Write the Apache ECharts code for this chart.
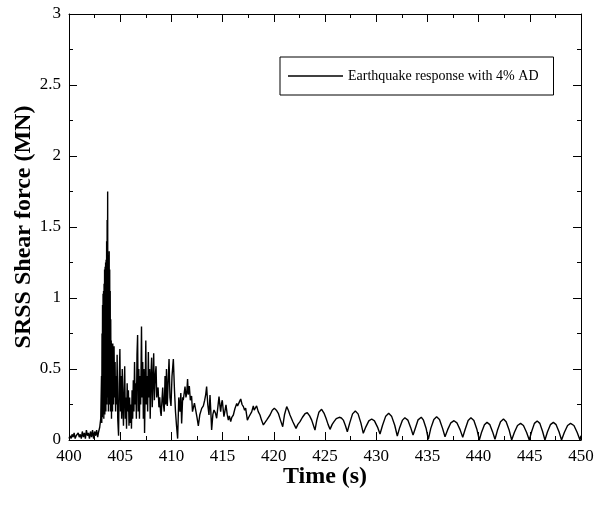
<!DOCTYPE html>
<html><head><meta charset="utf-8">
<script src="https://cdn.jsdelivr.net/npm/echarts@6/dist/echarts.min.js"></script>
<style>html,body{margin:0;padding:0;background:#fff}#c{width:602px;height:506px}</style>
</head><body><div id="c"></div>
<script>
// Pre-event noise
const quietTime = [400.0,400.1,400.2,400.3,400.4,400.5,400.6,400.7,400.8,400.9,401.0,401.1,401.2,401.3,401.4,401.5,401.6,401.7,401.8,401.9,402.0,402.1,402.2,402.3,402.4,402.5,402.6,402.7,402.8,402.9,403.0,403.1];
const quietShear = [0.01,0.03,0.01,0.04,0.02,0.05,0.01,0.03,0.02,0.05,0.02,0.04,0.01,0.06,0.02,0.05,0.01,0.07,0.03,0.05,0.01,0.06,0.02,0.07,0.01,0.06,0.03,0.07,0.02,0.06,0.09,0.15];
// Main shock
const peakTime = [403.15,403.175,403.2,403.225,403.25,403.275,403.3,403.325,403.35,403.375,403.4,403.425,403.45,403.475,403.5,403.525,403.55,403.575,403.6,403.625,403.65,403.675,403.7,403.725,403.75,403.775,403.8,403.825,403.85,403.875,403.9,403.925,403.95,403.975,404.0,404.025,404.05,404.075,404.1,404.125,404.15,404.175,404.2,404.225,404.25,404.275,404.3,404.325,404.35];
const peakShear = [0.15,0.45,0.12,0.75,0.16,0.95,0.18,1.03,0.22,1.05,0.15,1.1,0.25,1.2,0.18,1.22,0.3,1.25,0.2,1.27,0.35,1.4,0.25,1.55,0.4,1.75,0.3,1.25,0.2,1.3,0.35,1.33,0.25,1.2,0.3,1.05,0.2,0.85,0.35,0.7,0.15,0.68,0.3,0.6,0.2,0.68,0.35,0.55,0.25];
// Strong-motion decay
const decayTime = [404.40,404.45,404.50,404.55,404.60,404.65,404.70,404.76,404.84,404.90,404.97,405.03,405.08,405.14,405.20,405.26,405.32,405.38,405.44,405.50,405.56,405.62,405.68,405.74,405.80,405.86,405.92,405.98,406.04,406.10,406.16,406.22,406.28,406.34,406.40,406.46,406.52,406.58,406.64,406.70,406.76,406.82,406.88,406.94,407.00,407.08,407.14,407.20,407.26,407.32,407.38,407.44,407.50,407.56,407.62,407.68,407.75,407.81,407.87,407.93,408.00,408.07,408.13,408.20,408.27,408.34,408.42,408.50,408.57,408.64,408.70,408.78,408.86,408.94,409.00,409.08,409.15,409.22,409.30,409.38,409.45,409.52,409.60,409.68,409.77,409.86,409.96,410.06,410.19,410.30,410.40,410.50,410.61];
const decayShear = [0.66,0.3,0.55,0.2,0.45,0.25,0.6,0.15,0.03,0.4,0.64,0.2,0.45,0.15,0.5,0.25,0.1,0.35,0.52,0.15,0.3,0.08,0.4,0.2,0.35,0.1,0.3,0.12,0.25,0.08,0.35,0.15,0.42,0.2,0.55,0.25,0.4,0.15,0.6,0.74,0.2,0.5,0.15,0.45,0.25,0.8,0.3,0.55,0.15,0.5,0.05,0.35,0.7,0.25,0.45,0.2,0.62,0.3,0.5,0.15,0.45,0.58,0.23,0.4,0.61,0.28,0.45,0.52,0.3,0.35,0.37,0.23,0.3,0.2,0.17,0.28,0.37,0.25,0.2,0.45,0.25,0.5,0.24,0.4,0.57,0.3,0.24,0.45,0.57,0.35,0.2,0.1,0.01];
// Transition to free vibration
const midTime = [410.72,410.84,410.92,411.0,411.1,411.16,411.33,411.42,411.5,411.58,411.65,411.75,411.85,411.97,412.06,412.14,412.25,412.37,412.5,412.63,412.78,412.96,413.05,413.12,413.25,413.35,413.44,413.55,413.67,413.77,413.85,413.93,414.05,414.16,414.3,414.42,414.55,414.65,414.74,414.81,414.9,414.97,415.05,415.13,415.22,415.33,415.45,415.56,415.66,415.79,415.9,416.05,416.2,416.38,416.46,416.54,416.65,416.77,416.9,417.03,417.15,417.25,417.42,417.55,417.68,417.85,418.0,418.08,418.16,418.24,418.32,418.48,418.65,418.8,418.98,419.3,419.63,419.85,420.05,420.25,420.44,420.65,420.87,421.05,421.26,421.42,421.58,421.85,422.17,422.35,422.56,422.8,423.05,423.27,423.5,423.7,424.02,424.2,424.4,424.67,424.9,425.1,425.3,425.49,425.7,425.88,426.1,426.4,426.6,426.79,427.0];
const midShear = [0.3,0.2,0.33,0.117,0.3,0.28,0.376,0.3,0.33,0.43,0.32,0.38,0.28,0.31,0.2,0.188,0.26,0.258,0.16,0.099,0.18,0.223,0.21,0.24,0.28,0.32,0.376,0.25,0.176,0.317,0.2,0.07,0.18,0.211,0.19,0.153,0.24,0.305,0.24,0.2,0.26,0.28,0.22,0.165,0.2,0.247,0.18,0.14,0.17,0.129,0.16,0.176,0.22,0.258,0.24,0.247,0.27,0.289,0.25,0.235,0.21,0.225,0.14,0.16,0.153,0.2,0.24,0.21,0.2,0.22,0.24,0.2,0.176,0.14,0.106,0.14,0.176,0.21,0.223,0.21,0.188,0.14,0.094,0.18,0.235,0.21,0.176,0.13,0.082,0.11,0.129,0.16,0.185,0.192,0.17,0.14,0.07,0.14,0.195,0.216,0.19,0.153,0.11,0.075,0.11,0.129,0.15,0.16,0.155,0.14,0.1];
// Free-vibration tail
const tailTime = [427.18,427.41,427.69,427.96,428.23,428.51,428.74,428.98,429.28,429.56,429.83,430.13,430.37,430.62,430.93,431.22,431.50,431.81,432.06,432.29,432.57,432.8,433.09,433.37,433.6,433.82,434.09,434.4,434.6,434.87,435.09,435.33,435.63,435.9,436.18,436.48,436.72,436.98,437.29,437.6,437.88,438.19,438.45,438.69,438.98,439.25,439.54,439.83,440.07,440.3,440.57,440.82,441.1,441.37,441.6,441.84,442.14,442.43,442.69,442.99,443.23,443.49,443.80,444.1,444.38,444.69,444.95,445.18,445.45,445.72,445.98,446.25,446.48,446.72,447.01,447.3,447.57,447.86,448.1,448.37,448.69,448.98,449.31,449.63,449.9,450.0];
const tailShear = [0.058,0.119,0.184,0.204,0.184,0.119,0.047,0.091,0.135,0.148,0.135,0.091,0.042,0.104,0.168,0.188,0.168,0.104,0.028,0.087,0.140,0.157,0.140,0.087,0.035,0.083,0.142,0.16,0.142,0.083,0.005,0.082,0.145,0.164,0.145,0.082,0.023,0.073,0.121,0.136,0.121,0.073,0.019,0.076,0.138,0.157,0.138,0.076,0.0,0.057,0.108,0.124,0.108,0.057,0.005,0.068,0.128,0.148,0.128,0.068,0.0,0.053,0.102,0.117,0.102,0.053,0.0,0.060,0.117,0.134,0.117,0.060,0.0,0.056,0.108,0.124,0.108,0.056,0.0,0.053,0.102,0.117,0.102,0.053,0.0,0.03];

const xTicks = {min: 400, max: 450, interval: 5};
const yTicks = {min: 0, max: 3, interval: 0.5};
const seriesName = 'Earthquake response with 4% AD';

const allT = [].concat(quietTime, peakTime, decayTime, midTime, tailTime);
const allV = [].concat(quietShear, peakShear, decayShear, midShear, tailShear);
const data = allT.map((t, i) => [t, allV[i]]);

const serif = 'Liberation Serif, Times New Roman, serif';
function axisBase(show) {
  return {
    axisLine: {show: true, onZero: false, lineStyle: {color: '#000', width: 1}},
    axisTick: {show: true, inside: true, length: 8, lineStyle: {color: '#000', width: 1}},
    minorTick: {show: true, splitNumber: 2, length: 4, lineStyle: {color: '#000', width: 1}},
    splitLine: {show: false},
    axisLabel: {show: show, color: '#000', fontFamily: serif, fontSize: 17, margin: 8}
  };
}
const chart = echarts.init(document.getElementById('c'));
chart.setOption({
  animation: false,
  backgroundColor: '#fff',
  grid: {left: 69, right: 21, top: 14, bottom: 66},
  legend: {
    left: 280, top: 57,
    data: [{name: seriesName, icon: 'path://M0,0 L55,0 L55,1.4 L0,1.4 Z'}],
    itemWidth: 55, itemHeight: 14, itemGap: 9,
    padding: [12, 15, 12, 8],
    borderColor: '#000', borderWidth: 1,
    textStyle: {color: '#000', fontFamily: serif, fontSize: 14},
    itemStyle: {color: '#000'}
  },
  xAxis: [
    Object.assign({type: 'value', position: 'bottom', min: xTicks.min, max: xTicks.max, interval: xTicks.interval,
      name: 'Time (s)', nameLocation: 'middle', nameGap: 25, nameMoveOverlap: false,
      nameTextStyle: {color: '#000', fontFamily: serif, fontSize: 24, fontWeight: 'bold'}}, axisBase(true)),
    Object.assign({type: 'value', position: 'top', min: xTicks.min, max: xTicks.max, interval: xTicks.interval}, axisBase(false))
  ],
  yAxis: [
    Object.assign({type: 'value', position: 'left', min: yTicks.min, max: yTicks.max, interval: yTicks.interval,
      name: 'SRSS Shear force (MN)', nameLocation: 'middle', nameGap: 33, nameMoveOverlap: false,
      nameTextStyle: {color: '#000', fontFamily: serif, fontSize: 24, fontWeight: 'bold'}}, axisBase(true)),
    Object.assign({type: 'value', position: 'right', min: yTicks.min, max: yTicks.max, interval: yTicks.interval}, axisBase(false))
  ],
  series: [{
    name: seriesName, type: 'line', xAxisIndex: 0, yAxisIndex: 0,
    data: data, symbol: 'none', showSymbol: false,
    lineStyle: {color: '#000', width: 1.4}, itemStyle: {color: '#000'}
  }]
});
</script></body></html>
